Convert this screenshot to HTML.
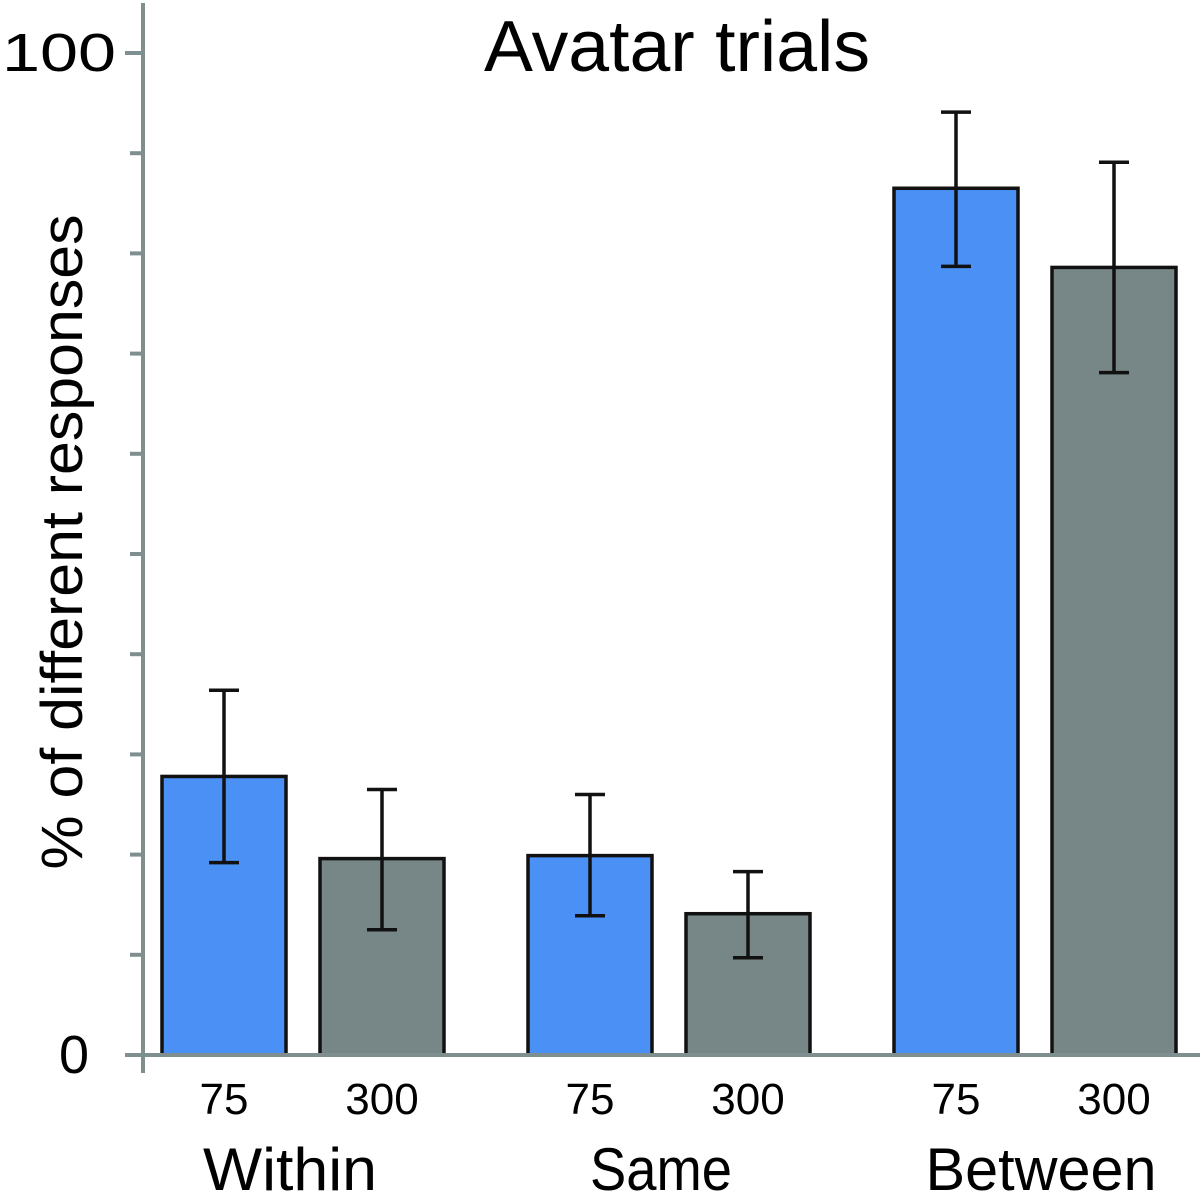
<!DOCTYPE html>
<html><head><meta charset="utf-8"><style>
html,body{margin:0;padding:0;background:#fff;}
svg{display:block;font-family:"Liberation Sans",Arial,sans-serif;}
</style></head><body>
<svg id="chart" width="1200" height="1200" viewBox="0 0 1200 1200" xmlns="http://www.w3.org/2000/svg">
<text x="677" y="71" font-size="72" text-anchor="middle" fill="#000" textLength="386" lengthAdjust="spacingAndGlyphs">Avatar trials</text>
<text transform="translate(82,542) rotate(-90)" font-size="58" text-anchor="middle" fill="#000" textLength="655" lengthAdjust="spacingAndGlyphs">% of different responses</text>
<g id="plot"></g>
</svg>
<script>
const groups = ["Within", "Same", "Between"];
const conditions = ["75", "300"];
const means75 = [27.8, 19.9, 86.5];
const means300 = [19.6, 14.1, 78.6];
const errHi75 = [36.4, 26.0, 94.1];
const errLo75 = [19.2, 13.9, 78.7];
const errHi300 = [26.5, 18.3, 89.1];
const errLo300 = [12.5, 9.7, 68.1];
const yTickLabels = ["0", "100"];
const yTicks = [0, 10, 20, 30, 40, 50, 60, 70, 80, 90, 100];

const NS = "http://www.w3.org/2000/svg";
const plot = document.getElementById("plot");
const y0 = 1055, yPer = 10.02;
function yScale(v){ return y0 - v * yPer; }
function groupCenter(i){ return 303 + i * 366; }
function barCenter(g, c){ return groupCenter(g) + (c === 0 ? -79 : 79); }
const barW = 124;
const groupLabelShift = [-13, -8, 6];
const groupLabelLen = [174, 142, 231];
function mk(tag, attrs){ const e = document.createElementNS(NS, tag); for (const k in attrs) e.setAttribute(k, attrs[k]); plot.appendChild(e); return e; }

let ax = mk("line", {x1:143, y1:3, x2:143, y2:1073, stroke:"#7f8f8f", "stroke-width":4});


yTicks.forEach(t => {
  const tk = mk("line", {x1: (t % 100 === 0 ? 125 : 130), y1: yScale(t), x2: 143, y2: yScale(t), stroke:"#7f8f8f", "stroke-width":4});
  
  
});
[0, 100].forEach((v, i) => {
  const attrs = {x: (v === 0 ? 89 : 116), y: yScale(v) + 18, "font-size": 54, "text-anchor": "end", fill:"#000"};
  if (v === 100) { attrs.textLength = 114; attrs.lengthAdjust = "spacingAndGlyphs"; }
  const tl = mk("text", attrs);
  tl.textContent = yTickLabels[i];
  
  
});

const colors = ["#4a90f5", "#778787"];
const meansAll = [means75, means300], hiAll = [errHi75, errHi300], loAll = [errLo75, errLo300];
groups.forEach((g, gi) => {
  conditions.forEach((c, ci) => {
    const cx = barCenter(gi, ci);
    const v = meansAll[ci][gi];
    const r = mk("rect", {x: cx - barW/2, y: yScale(v), width: barW, height: y0 - yScale(v), fill: colors[ci], stroke:"#111", "stroke-width":3.5});
    
    
    const hi = yScale(hiAll[ci][gi]), lo = yScale(loAll[ci][gi]);
    const eb = mk("path", {d: `M${cx},${hi}V${lo}M${cx-15},${hi}H${cx+15}M${cx-15},${lo}H${cx+15}`, stroke:"#111", "stroke-width":3.5, fill:"none"});
    
    
    const lab = mk("text", {x: cx, y: 1114, "font-size": 44, "text-anchor":"middle", fill:"#000"});
    lab.textContent = c;
    
    
  });
  const gl = mk("text", {x: groupCenter(gi) + groupLabelShift[gi], y: 1190, "font-size": 60, "text-anchor":"middle", fill:"#000", textLength: groupLabelLen[gi], lengthAdjust:"spacingAndGlyphs"});
  gl.textContent = g;
  
  
});
let xa = mk("line", {x1:125, y1:y0, x2:1200, y2:y0, stroke:"#7f8f8f", "stroke-width":4});


</script>
</body></html>
